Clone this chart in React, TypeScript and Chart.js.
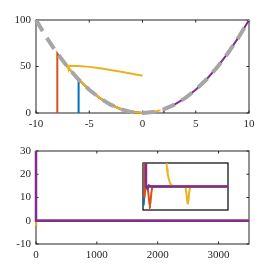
import React, { useEffect, useRef } from 'react';
import { Chart, registerables } from 'chart.js';
Chart.register(...registerables);

const FONT = { family: 'Liberation Serif', size: 11 };
const AX = '#262626';
const BLUE = '#0072BD';
const ORANGE = '#D95319';
const YELLOW = '#EDB120';
const PURPLE = '#7E2F8E';
const GRAY = '#A6A6A6';

// ---------- top panel ----------
const TOP_X_RANGE = [-10, 10];
const TOP_Y_RANGE = [0, 100];
const TOP_X_TICKS = [-10, -5, 0, 5, 10];
const TOP_Y_TICKS = [0, 50, 100];
const CURVE_X = [-10, -9, -8, -7, -6, -5, -4, -3, -2, -1, 0, 1, 2, 3, 4, 5, 6, 7, 8, 9, 10];
const CURVE_Y = [100, 81, 64, 49, 36, 25, 16, 9, 4, 1, 0, 1, 4, 9, 16, 25, 36, 49, 64, 81, 100];
const BLUE_X = [-6, -6, -5, -4, -3, -2, -1, 0];
const BLUE_Y = [0, 36, 25, 16, 9, 4, 1, 0];
const ORANGE_X = [-8, -8, -7.5, -7, -6, -5, -4, -3, -2, -1, 0];
const ORANGE_Y = [0, 64, 56.25, 49, 36, 25, 16, 9, 4, 1, 0];
const YELLOW_X = [0, -1, -2, -3, -4, -5, -6, -7.05, -7, -6, -5, -4, -3, -2, -1, 0, 1, 1.7];
const YELLOW_Y = [40.1, 42.2, 44.3, 46.3, 48.1, 49.6, 50.5, 50.8, 49, 36, 25, 16, 9, 4, 1, 0, 1, 2.9];
const PURPLE_X = [2, 2, 3, 4, 5, 6, 7, 8, 9, 10];
const PURPLE_Y = [0, 4, 9, 16, 25, 36, 49, 64, 81, 100];

// ---------- bottom panel ----------
const BOT_X_RANGE = [0, 3500];
const BOT_Y_RANGE = [-10, 30];
const BOT_X_TICKS = [0, 1000, 2000, 3000];
const BOT_Y_TICKS = [-10, 0, 10, 20, 30];
const B_PURPLE_X = [0, 0, 3500];
const B_PURPLE_Y = [32, 0, 0];
const B_YELLOW_X = [0, 0, 10, 3500];
const B_YELLOW_Y = [0, -2.2, 0, 0];
const B_BLUE_X = [0, 0, 3500];
const B_BLUE_Y = [2.4, 0, 0];
const B_ORANGE_X = [0, 3500];
const B_ORANGE_Y = [0, 0];
const INSET_BOX_X = [1750, 3150];
const INSET_BOX_Y = [5, 25];

// ---------- inset ----------
const IN_X_RANGE = [0, 86];
const IN_Y_RANGE = [-1, 1];
const IN_BLUE_X = [0.6, 0.6, 1.5, 3, 86];
const IN_BLUE_Y = [1.3, -0.8, -0.3, 0, 0];
const IN_ORANGE_X = [1.3, 1.3, 2.5, 4.5, 5.5, 6.5, 7, 7.5, 8.5, 9.5, 86];
const IN_ORANGE_Y = [1.3, -0.5, 0, 0, -0.3, -0.75, -0.79, -0.7, -0.25, 0, 0];
const IN_YELLOW_X = [23.4, 23.8, 24.3, 25, 26, 27, 28, 29.5, 31, 33, 42.7, 43.7, 44.7, 45.3, 45.9, 46.9, 47.9, 86];
const IN_YELLOW_Y = [1.3, 1.0, 0.76, 0.55, 0.34, 0.2, 0.1, 0.04, 0.01, 0, 0, -0.2, -0.6, -0.76, -0.6, -0.2, 0, 0];
const IN_PURPLE_X = [3, 3, 4.5, 6, 8, 86];
const IN_PURPLE_Y = [1.3, 0, -0.08, 0.04, 0, 0];

const pts = (xs: number[], ys: number[]) => xs.map((x, i) => ({ x, y: ys[i] }));

const boxPlugin = {
  id: 'box',
  beforeDatasetsDraw(chart: any, _a: any, opts: any) {
    const { ctx, chartArea: ca } = chart;
    ctx.save();
    ctx.strokeStyle = opts.color;
    ctx.lineWidth = opts.width;
    ctx.strokeRect(ca.left, ca.top, ca.right - ca.left, ca.bottom - ca.top);
    const L = opts.tick || 0;
    if (L) {
      const xs = chart.scales.x;
      const ys = chart.scales.y;
      ctx.beginPath();
      for (const t of xs.ticks) {
        const p = xs.getPixelForValue(t.value);
        ctx.moveTo(p, ca.bottom); ctx.lineTo(p, ca.bottom - L);
        ctx.moveTo(p, ca.top); ctx.lineTo(p, ca.top + L);
      }
      for (const t of ys.ticks) {
        const p = ys.getPixelForValue(t.value);
        ctx.moveTo(ca.left, p); ctx.lineTo(ca.left + L, p);
        ctx.moveTo(ca.right, p); ctx.lineTo(ca.right - L, p);
      }
      ctx.stroke();
    }
    ctx.restore();
  },
};

function axis(range: number[], ticks: number[], fit: (s: any) => void) {
  return {
    type: 'linear',
    min: range[0],
    max: range[1],
    afterBuildTicks: (s: any) => { s.ticks = ticks.map((v) => ({ value: v })); },
    afterFit: fit,
    grid: { display: false, drawTicks: false },
    border: { display: false },
    ticks: { font: FONT, color: AX, padding: 5, maxRotation: 0, autoSkip: false, callback: (v: any) => String(v) },
  };
}

const baseOpts = {
  responsive: false,
  animation: false,
  devicePixelRatio: 1,
  events: [],
  elements: { point: { radius: 0 }, line: { tension: 0, borderCapStyle: 'butt', borderJoinStyle: 'miter' } },
};

export default function App() {
  const topRef = useRef<HTMLCanvasElement>(null);
  const botRef = useRef<HTMLCanvasElement>(null);
  const inRef = useRef<HTMLCanvasElement>(null);

  useEffect(() => {
    const line = (xs: number[], ys: number[], color: string, w: number, order: number, clip: any, extra: any = {}) => ({
      data: pts(xs, ys), borderColor: color, borderWidth: w, order, clip, fill: false, ...extra,
    });

    const top = new Chart(topRef.current!, {
      type: 'line',
      data: {
        datasets: [
          line(CURVE_X, CURVE_Y, GRAY, 4, 0, false, { borderDash: [13, 8] }),
          line(PURPLE_X, PURPLE_Y, PURPLE, 2, 1, false),
          line(YELLOW_X, YELLOW_Y, YELLOW, 2, 2, false),
          line(ORANGE_X, ORANGE_Y, ORANGE, 2, 3, false),
          line(BLUE_X, BLUE_Y, BLUE, 2, 4, false),
        ],
      },
      options: {
        ...baseOpts,
        layout: { padding: { left: 0, top: 20, right: 26, bottom: 0 } },
        plugins: { legend: { display: false }, tooltip: { enabled: false }, box: { color: AX, width: 1, tick: 2.5 } },
        scales: {
          x: axis(TOP_X_RANGE, TOP_X_TICKS, (s: any) => { s.height = 22; }),
          y: axis(TOP_Y_RANGE, TOP_Y_TICKS, (s: any) => { s.width = 36; }),
        },
      } as any,
      plugins: [boxPlugin],
    });

    const clipB = { left: 3, top: 0, right: 0, bottom: 3 };
    const bot = new Chart(botRef.current!, {
      type: 'line',
      data: {
        datasets: [
          line(B_PURPLE_X, B_PURPLE_Y, PURPLE, 2.5, 1, clipB),
          line(B_YELLOW_X, B_YELLOW_Y, YELLOW, 2, 2, clipB),
          line(B_ORANGE_X, B_ORANGE_Y, ORANGE, 2, 3, clipB),
          line(B_BLUE_X, B_BLUE_Y, BLUE, 2, 4, clipB),
        ],
      },
      options: {
        ...baseOpts,
        layout: { padding: { left: 0, top: 16, right: 26, bottom: 0 } },
        plugins: { legend: { display: false }, tooltip: { enabled: false }, box: { color: AX, width: 1, tick: 2.5 } },
        scales: {
          x: axis(BOT_X_RANGE, BOT_X_TICKS, (s: any) => { s.height = 31; }),
          y: axis(BOT_Y_RANGE, BOT_Y_TICKS, (s: any) => { s.width = 36; }),
        },
      } as any,
      plugins: [boxPlugin],
    });

    // inset placed at its data box inside the bottom panel
    const bx = bot.scales.x;
    const by = bot.scales.y;
    const l = bx.getPixelForValue(INSET_BOX_X[0]);
    const r = bx.getPixelForValue(INSET_BOX_X[1]);
    const t = by.getPixelForValue(INSET_BOX_Y[1]);
    const b = by.getPixelForValue(INSET_BOX_Y[0]);
    const M = 4;
    const ic = inRef.current!;
    ic.width = Math.round(r - l) + 2 * M;
    ic.height = Math.round(b - t) + 2 * M;
    ic.style.left = l - M + 'px';
    ic.style.top = 135 + t - M + 'px';
    const clipI = { left: 0, top: 0, right: 2, bottom: 0 };
    const inset = new Chart(ic, {
      type: 'line',
      data: {
        datasets: [
          line(IN_PURPLE_X, IN_PURPLE_Y, PURPLE, 2.5, 1, clipI),
          line(IN_YELLOW_X, IN_YELLOW_Y, YELLOW, 2, 2, clipI),
          line(IN_ORANGE_X, IN_ORANGE_Y, ORANGE, 2, 3, clipI),
          line(IN_BLUE_X, IN_BLUE_Y, BLUE, 2, 4, clipI),
        ],
      },
      options: {
        ...baseOpts,
        layout: { padding: M },
        plugins: { legend: { display: false }, tooltip: { enabled: false }, box: { color: '#000', width: 1.2, tick: 0 } },
        scales: {
          x: { type: 'linear', display: false, min: IN_X_RANGE[0], max: IN_X_RANGE[1] },
          y: { type: 'linear', display: false, min: IN_Y_RANGE[0], max: IN_Y_RANGE[1] },
        },
      } as any,
      plugins: [boxPlugin],
    });

    return () => { top.destroy(); bot.destroy(); inset.destroy(); };
  }, []);

  return (
    <div style={{ position: 'absolute', left: 0, top: 0, width: 275, height: 275, background: '#fff' }}>
      <canvas ref={topRef} width={275} height={135} style={{ position: 'absolute', left: 0, top: 0 }} />
      <canvas ref={botRef} width={275} height={140} style={{ position: 'absolute', left: 0, top: 135 }} />
      <canvas ref={inRef} style={{ position: 'absolute' }} />
    </div>
  );
}
